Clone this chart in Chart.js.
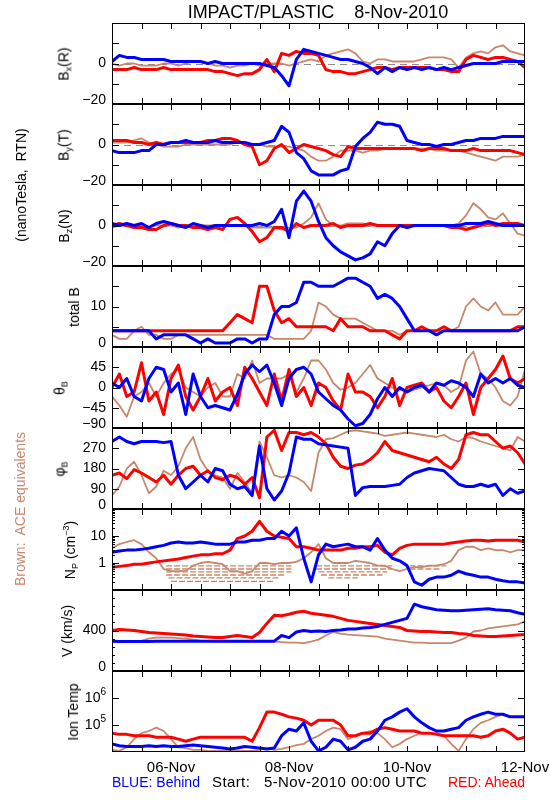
<!DOCTYPE html>
<html>
<head>
<meta charset="utf-8">
<script src="https://cdn.jsdelivr.net/npm/chart.js@4"></script>
<style>
  body { margin:0; background:#fff; }
  #page { position:relative; width:550px; height:800px; overflow:hidden; font-family:"Liberation Sans", Arial, sans-serif; }
  #page canvas { position:absolute; left:0; }
  .txt { position:absolute; white-space:pre; font-size:14px; line-height:16px; }
  .rot { position:absolute; white-space:pre; font-size:14px; line-height:16px; transform:translate(-50%,-50%) rotate(-90deg); }
  .rot sub { font-size:9px; vertical-align:-3px; }
  .rot sup { font-size:9px; vertical-align:6px; }
</style>
</head>
<body>
<div id="page"></div>
<script>
// time of each sample, hours after 5-Nov-2010 00:00 UTC
const hours = [0,3,6,9,12,15,18,21,24,27,30,33,36,39,42,45,48,51,54,57,60,63,66,69,72,75,78,81,84,87,90,93,96,99,102,105,108,111,114,117,120,123,126,129,132,135,138,141,144,147,150,153,156,159,162,165,168];

// BLUE = Behind, RED = Ahead, brown = ACE
const bxBehind = [1,4,3,3,2,2,2,2,1,1, 1,1,1,0,1,0,0,0,0,0, 0,-1,-2,-6,-11,2,7,6,5,4, 3,2,2,1,0,-2,-5,-2,-4,-2, -3,-2,-3,-2,-3,-2,-3,-2,-1,0, 0,0,0,1,1,1,1];
const bxAhead  = [-3,-3,-3,-2,-3,-3,-3,-2,-3,-3, -3,-3,-3,-3,-4,-4,-5,-6,-5,-5, -3,2,-4,5,4,6,5,5,4,-3, -4,-4,-5,-5,-4,-3,-2,-2,-3,-2, -2,-2,-2,-2,-3,-3,-4,-4,2,4, 3,2,3,3,2,1,-2];
const bxAce    = [0,-1,0,0,-1,-1,-1,0,0,-1, 0,1,1,0,-1,-1,-2,-1,-1,0, -1,0,0,0,-1,0,1,2,1,4, 5,6,7,5,1,0,2,2,1,1, 1,1,2,3,3,3,2,-2,3,5, 6,5,8,9,6,5,4];

const byBehind = [-3,-4,-4,-4,-3,-3,0,0,1,1, 2,1,1,1,2,1,1,1,1,0, 0,1,2,9,6,-4,-7,-13,-15,-15, -15,-13,-12,-1,3,6,11,10,10,9, 2,1,0,0,-1,0,0,1,2,2, 3,3,3,4,4,4,4];
const byAhead  = [2,2,2,1,1,0,1,0,1,1, 1,1,1,2,2,3,3,2,0,-1, -10,-8,-2,0,-4,-2,0,-1,-2,-3, -5,-6,-1,-2,-2,-2,-2,-2,-2,-2, -2,-2,-3,-2,-2,-2,-3,-3,-3,-2, -3,-3,-3,-3,-3,-4,-5];
const byAce    = [1,1,1,2,3,1,0,-1,-1,-1, 0,0,0,0,0,0,0,1,0,0, 0,-1,-1,-1,-1,-2,-3,-6,-8,-8, -6,-3,-3,-3,-4,-3,-3,-2,-2,-2, -2,-2,-2,-2,-3,-3,-3,-3,-4,-5, -6,-7,-8,-6,-6,-6,-5];

const bzBehind = [1,0,1,0,1,-1,1,2,1,0, -1,1,0,-1,0,0,0,0,0,0, 1,0,2,8,-6,12,17,12,2,-6, -10,-13,-15,-17,-16,-14,-8,-10,-4,0, -1,0,0,0,0,0,0,0,1,1, 1,2,1,0,0,0,0];
const bzAhead  = [0,1,0,-1,-1,-2,-2,0,1,0, 0,-1,-1,-2,-1,-2,3,4,1,-3, -8,-6,-1,-1,-3,1,-1,0,0,0, 1,-1,0,0,0,1,0,0,0,0, 0,0,0,0,0,0,-1,-1,-2,-1, 0,1,0,1,1,1,0];
const bzAce    = [-1,0,0,0,0,-1,0,0,0,-1, 0,0,0,0,0,0,0,0,0,-1, -1,-1,-1,-2,-1,-1,1,4,11,3, 0,0,1,1,1,0,0,0,0,0, 0,0,0,0,0,0,0,1,5,11, 8,4,3,6,1,-4,-5];

const btBehind = [4,4,4,4,4,4,2,3,3,3, 3,2,1,2,1,1,1,2,2,1, 2,2,8,10,10,11,16,16,15,15, 15,16,17,17,16,15,12,13,12,10, 7,4,4,4,3,4,4,4,4,4, 4,4,4,4,4,4,5];
const btAhead  = [4,4,4,4,4,4,4,4,4,4, 4,4,4,4,4,4,6,8,7,6, 15,15,9,6,7,5,5,5,5,5, 4,7,5,5,5,4,4,4,3,2, 4,4,5,4,4,5,4,4,4,4, 4,4,4,4,4,5,5];
const btAce    = [3,2,2,4,5,3,3,2,2,3, 3,3,3,3,3,3,3,3,3,3, 3,3,2,2,2,2,2,4,11,10, 8,7,7,7,6,5,4,4,4,3, 4,4,4,4,4,4,4,5,10,12, 10,9,11,8,8,8,10];

const thBehind = [10,0,20,-20,-30,20,45,40,-10,10, -60,30,-20,-45,-40,-45,-50,-15,30,50, 35,50,10,-40,20,40,45,30,-10,-25, -40,-50,-70,-85,-80,-60,-25,0,-20,0, -10,0,5,-10,10,5,15,10,0,-20, 30,10,20,10,20,5,0];
const thAhead  = [0,30,-20,-10,55,-30,-10,-60,20,50, -20,-50,-20,20,-30,-10,0,-40,45,20, -10,-40,30,-30,40,-20,0,-40,10,0, -30,-50,30,-10,-10,-20,-45,-20,20,-40, 0,5,10,-10,0,-30,-45,-20,10,-60, 0,20,40,70,20,10,20];
const thAce    = [-20,-40,-65,-20,-10,10,-20,10,30,40, 0,-10,-20,0,10,-20,-20,30,20,60, 10,20,20,20,30,-10,20,60,60,40, 10,-5,0,10,30,50,20,10,0,-5, -10,-5,0,5,10,5,-10,0,60,80, 30,20,0,-30,-40,-20,40];

const phBehind = [300,320,300,290,300,300,300,295,300,150, 90,120,150,120,180,170,110,90,100,60, 280,90,40,80,160,320,310,310,290,285, 280,275,270,60,95,100,100,100,105,110, 140,160,170,180,175,170,140,110,100,100, 110,100,110,60,90,70,80];
const phAhead  = [150,160,135,175,160,140,120,150,110,150, 180,190,150,170,140,130,150,140,110,140, 50,320,350,260,340,340,330,340,320,290, 230,190,180,195,200,220,250,300,260,250, 240,230,220,210,230,200,180,220,330,340, 330,330,300,270,280,250,200];
const phAce    = [60,100,180,210,150,70,100,170,150,190, 270,320,220,170,150,140,90,160,120,70, 300,230,150,140,150,140,120,80,250,310, 315,330,345,350,345,340,335,325,330,335, 340,335,330,325,320,330,310,300,320,315, 300,290,280,270,260,320,300];

const npBehind = [2.5,2.8,3,3,3.2,3.5,4,4.5,5.5,6, 5.5,5.5,6,5.5,5,5,5,6,6,7, 7,8,8,15,10,20,1.5,0.2,2,5, 4,4.5,5,4,4,3,8,3,1.5,1.2, 0.8,0.2,0.15,0.25,0.3,0.3,0.35,0.5,0.4,0.35, 0.3,0.3,0.25,0.22,0.2,0.2,0.18];
const npAhead  = [0.7,0.75,0.8,0.9,0.9,1,1.1,1.2,1.3,1.4, 1.6,1.8,2,2,2.2,2.2,3,8,10,15, 35,15,10,9,8,4,4,3.5,3,3, 3,3,3.5,3.5,4,4,4.5,2.5,2,3.5, 4.5,5,5,5,5,5,5.5,6,6.5,7, 7,6.5,7,7,7,7,6];
const npAce    = [3.5,5,6,7,5,2.5,1.5,0.6,0.5,0.5, 0.5,0.8,1,1.1,1,0.9,0.5,0.5,0.4,0.5, 1,1,0.9,1,1,1.1,1.5,2.5,5,1.5, 1,1,1,1.2,1.1,1,0.8,0.8,0.6,0.5, 0.6,0.7,0.7,0.8,0.8,0.9,1.2,3,4,4, 3,3.5,3,3,2.5,3,3];

// ACE density floor: quantised levels (cm^-3) and the hour spans where they show
const npAceLevels = [0.78, 0.6, 0.47, 0.36, 0.28, 0.21];
const npAceSpans  = [
  [[22,73],[83,114],[121,136]],
  [[22,73],[83,114],[121,134]],
  [[22,73],[84,112]],
  [[22,70],[85,110]],
  [[23,68],[88,100]],
  [[24,66]]
];

const vBehind = [295,292,292,292,292,292,295,295,295,295, 295,295,295,295,295,295,295,295,295,295, 295,295,295,350,330,385,400,390,395,390, 400,405,415,415,425,430,440,460,480,500, 520,660,635,620,605,600,595,595,600,605, 610,615,605,600,595,575,560];
const vAhead  = [400,410,405,400,390,380,375,370,365,360, 355,345,340,335,330,330,340,350,340,330, 380,470,550,545,560,580,590,570,560,550, 540,520,500,490,480,470,460,450,440,430, 400,395,390,390,385,380,380,370,365,350, 345,340,340,345,350,355,360];
const vAce    = [290,290,290,290,300,320,330,330,330,325, 320,310,300,295,290,290,290,290,290,290, 290,290,290,285,280,280,275,290,310,350, 385,370,360,355,350,345,340,320,310,300, 290,280,280,275,275,275,275,300,330,390, 400,420,430,440,450,460,490];

const tBehind = [2e4,1.7e4,1.6e4,1.6e4,1.6e4,1.7e4,1.6e4,1.7e4,1.6e4,1.6e4, 1.7e4,1.8e4,1.7e4,1.6e4,1.5e4,1.4e4,1.3e4,1.4e4,1.6e4,1.5e4, 1.4e4,1.3e4,1.4e4,4e4,7e4,6e4,1.2e5,2.5e4,1.1e4,1.5e4, 3e4,2.5e4,1.2e4,1.5e4,2.5e4,3e4,6e4,1.5e5,2e5,3e5, 4e5,2e5,1.2e5,8e4,6e4,6e4,7e4,8e4,1.5e5,2e5, 2.5e5,3e5,2.5e5,2.5e5,2e5,2e5,2e5];
const tAhead  = [5e4,4.5e4,4.5e4,4e4,4e4,4e4,3.5e4,3.5e4,3.5e4,3e4, 2.5e4,3e4,3.5e4,3.5e4,3.5e4,3.5e4,3.5e4,3.5e4,3.5e4,2.5e4, 8e4,3e5,3e5,2.5e5,2e5,1.8e5,1.5e5,1e5,1.5e5,1.5e5, 1.5e5,1e5,4e4,4e4,5e4,5e4,7e4,8e4,7e4,6e4, 6e4,6e4,5e4,5e4,4.5e4,4e4,4e4,4e4,4e4,4e4, 3.5e4,4e4,6e4,7e4,5e4,3e4,3.5e4];
const tAce    = [1.2e4,1.1e4,1.5e4,3e4,5e4,6e4,8e4,6e4,3e4,1.5e4, 1.4e4,1.2e4,1.2e4,1.1e4,1.1e4,1.1e4,1.1e4,1.1e4,1.1e4,1.1e4, 1.2e4,1.4e4,1.2e4,1.3e4,1.5e4,1.8e4,2e4,3e4,4e4,6e4, 8e4,7e4,3e4,4e4,5e4,6e4,5e4,3e4,1.5e4,2e4, 3e4,4e4,5e4,5e4,5e4,4e4,2e4,1.1e4,3e4,7e4, 1.2e5,1.5e5,2e5,2.5e5,2e5,2e5,2e5];

// tick labels
const bLabels  = [[0,'0'],[-20,'−20']];
const btLabels = [[10,'10'],[0,'0']];
const thLabels = [[45,'45'],[0,'0'],[-45,'−45'],[-90,'−90']];
const phLabels = [[270,'270'],[180,'180'],[90,'90'],[0,'0']];
const npLabels = [[10,'10'],[1,'1']];
const vLabels  = [[400,'400'],[0,'0']];
const tLabels  = [[1e6,'10^6'],[1e5,'10^5']];
const dateTicks = [[24,'06-Nov'],[72,'08-Nov'],[120,'10-Nov'],[168,'12-Nov']];
const xTicks = [12,24,36,48,60,72,84,96,108,120,132,144,156];

const BLUE = '#0000ff', RED = '#ff0000', BROWN = '#c8866b';
const FONT = '"Liberation Sans", Arial, sans-serif';

const logMinor = [];
[0.1, 1, 10].forEach(d => { for (let k = 2; k <= 9; k++) logMinor.push(d * k); });

// dashed brown floor rows for the density panel
const floorSets = npAceLevels.map((lvl, r) => ({
  data: npAceSpans[r].flatMap(([a, b]) => [{ x: a, y: lvl }, { x: b, y: lvl }, { x: b, y: null }]),
  borderColor: BROWN, borderWidth: 1.3, borderDash: [6, 2], spanGaps: false
}));

const panels = [
  { label:'B<sub>x</sub>(R)', lx:66, min:-20, max:20, s:[bxBehind,bxAhead,bxAce], major:[-10,0,10], minor:[], labels:bLabels, zero:true },
  { label:'B<sub>y</sub>(T)', lx:66, min:-20, max:20, s:[byBehind,byAhead,byAce], major:[-10,0,10], minor:[], labels:bLabels, zero:true },
  { label:'B<sub>z</sub>(N)', lx:66, min:-20, max:20, s:[bzBehind,bzAhead,bzAce], major:[-10,0,10], minor:[], labels:bLabels, zero:true },
  { label:'total B', lx:74, min:0, max:20, s:[btBehind,btAhead,btAce], major:[5,10,15], minor:[], labels:btLabels },
  { label:'θ<sub>B</sub>', lx:62, min:-90, max:90, s:[thBehind,thAhead,thAce], major:[-45,0,45], minor:[], labels:thLabels },
  { label:'φ<sub>B</sub>', lx:62, min:0, max:360, s:[phBehind,phAhead,phAce], major:[90,180,270], minor:[], labels:phLabels },
  { label:'N<sub>P</sub> (cm<sup>−3</sup>)', lx:70, log:true, min:0.1, max:100, s:[npBehind,npAhead,npAce], extra:floorSets, major:[1,10], minor:logMinor, labels:npLabels },
  { label:'V (km/s)', lx:67, min:0, max:800, s:[vBehind,vAhead,vAce], major:[400], minor:[80,160,240,320,480,560,640,720], labels:vLabels },
  { label:'Ion Temp', lx:73, log:true, min:1e4, max:1e7, s:[tBehind,tAhead,tAce], major:[1e5,1e6], minor:[], labels:tLabels, dates:true }
];

function drawLabel(ctx, txt, xr, y) {
  const [base, sup] = txt.split('^');
  ctx.font = '14px ' + FONT;
  if (!sup) { ctx.fillText(base, xr, y); return; }
  ctx.font = '10px ' + FONT;
  const sw = ctx.measureText(sup).width;
  ctx.fillText(sup, xr, y - 6);
  ctx.font = '14px ' + FONT;
  ctx.fillText(base, xr - sw, y);
}

const frame = {
  id: 'frame',
  beforeDatasetsDraw(chart, args, o) {
    if (!o.zero) return;
    const { ctx, chartArea: a, scales: { y } } = chart;
    const py = Math.round(y.getPixelForValue(0)) + 0.5;
    ctx.save();
    ctx.strokeStyle = '#8c8c8c';
    ctx.lineWidth = 1;
    ctx.setLineDash([7, 5]);
    ctx.beginPath(); ctx.moveTo(a.left, py); ctx.lineTo(a.right, py); ctx.stroke();
    ctx.restore();
  },
  afterDraw(chart, args, o) {
    const { ctx, chartArea: a, scales: { x, y } } = chart;
    ctx.save();
    ctx.strokeStyle = '#000';
    ctx.lineWidth = 1;
    ctx.strokeRect(a.left + 0.5, a.top + 0.5, a.width - 1, a.height - 1);
    ctx.beginPath();
    xTicks.forEach(h => {
      const px = Math.round(x.getPixelForValue(h)) + 0.5;
      ctx.moveTo(px, a.top); ctx.lineTo(px, a.top + 6);
      ctx.moveTo(px, a.bottom); ctx.lineTo(px, a.bottom - 6);
    });
    const yt = (v, len) => {
      const py = Math.round(y.getPixelForValue(v)) + 0.5;
      ctx.moveTo(a.left, py); ctx.lineTo(a.left + len, py);
      ctx.moveTo(a.right, py); ctx.lineTo(a.right - len, py);
    };
    o.major.forEach(v => yt(v, 7));
    o.minor.forEach(v => yt(v, 3));
    ctx.stroke();

    ctx.fillStyle = '#000';
    ctx.textAlign = 'right';
    ctx.textBaseline = 'middle';
    o.labels.forEach(([v, txt]) => {
      const py = Math.min(y.getPixelForValue(v), a.bottom - 4);
      drawLabel(ctx, txt, a.left - 6, py);
    });
    if (o.dates) {
      ctx.textAlign = 'center';
      ctx.font = '15px ' + FONT;
      dateTicks.forEach(([h, txt]) => ctx.fillText(txt, x.getPixelForValue(h), a.bottom + 16));
    }
    ctx.restore();
  }
};

const page = document.getElementById('page');
const TOP = 23, H = 81, PAD = 3;

panels.forEach((p, k) => {
  const top = TOP + k * H;
  const extra = p.dates ? 30 : 0;
  const cv = document.createElement('canvas');
  cv.width = 550; cv.height = H + 2 * PAD + extra;
  cv.style.top = (top - PAD) + 'px';
  page.appendChild(cv);

  const lab = document.createElement('div');
  lab.className = 'rot';
  lab.innerHTML = p.label;
  lab.style.left = p.lx + 'px';
  lab.style.top = (top + H / 2) + 'px';
  page.appendChild(lab);

  const pts = arr => arr.map((v, i) => ({ x: hours[i], y: v }));
  const sets = [
    { data: pts(p.s[0]), borderColor: BLUE, borderWidth: 3 },
    { data: pts(p.s[1]), borderColor: RED, borderWidth: 3 },
    { data: pts(p.s[2]), borderColor: BROWN, borderWidth: 1.8 }
  ].concat(p.extra || []);
  new Chart(cv, {
    type: 'line',
    data: {
      datasets: sets.map(d => Object.assign(d, { pointRadius: 0, tension: 0, borderJoinStyle: 'round', fill: false }))
    },
    options: {
      responsive: false,
      animation: false,
      events: [],
      layout: { padding: { left: 112, right: 25, top: PAD, bottom: PAD + extra } },
      scales: {
        x: { type: 'linear', min: 0, max: 168, display: false },
        y: { type: p.log ? 'logarithmic' : 'linear', min: p.min, max: p.max, display: false }
      },
      plugins: {
        legend: { display: false },
        tooltip: { enabled: false },
        frame: { major: p.major, minor: p.minor, labels: p.labels, zero: !!p.zero, dates: !!p.dates }
      }
    },
    plugins: [frame]
  });
});

function addText(html, cls, css) {
  const d = document.createElement('div');
  d.className = cls;
  d.innerHTML = html;
  Object.assign(d.style, css);
  page.appendChild(d);
}
addText('IMPACT/PLASTIC    8-Nov-2010', 'txt', { left: '0px', width: '636px', textAlign: 'center', top: '2px', fontSize: '18px', lineHeight: '20px' });
addText('(nanoTesla,  RTN)', 'rot', { left: '21px', top: '185px' });
addText('Brown:  ACE equivalents', 'rot', { left: '20px', top: '509px', color: BROWN });
addText('BLUE: Behind', 'txt', { left: '112px', top: '774px', color: BLUE });
addText('Start:   5-Nov-2010 00:00 UTC', 'txt', { left: '212px', top: '774px', fontSize: '15px', letterSpacing: '0.4px' });
addText('RED: Ahead', 'txt', { right: '25px', top: '774px', color: RED });
</script>
</body>
</html>
